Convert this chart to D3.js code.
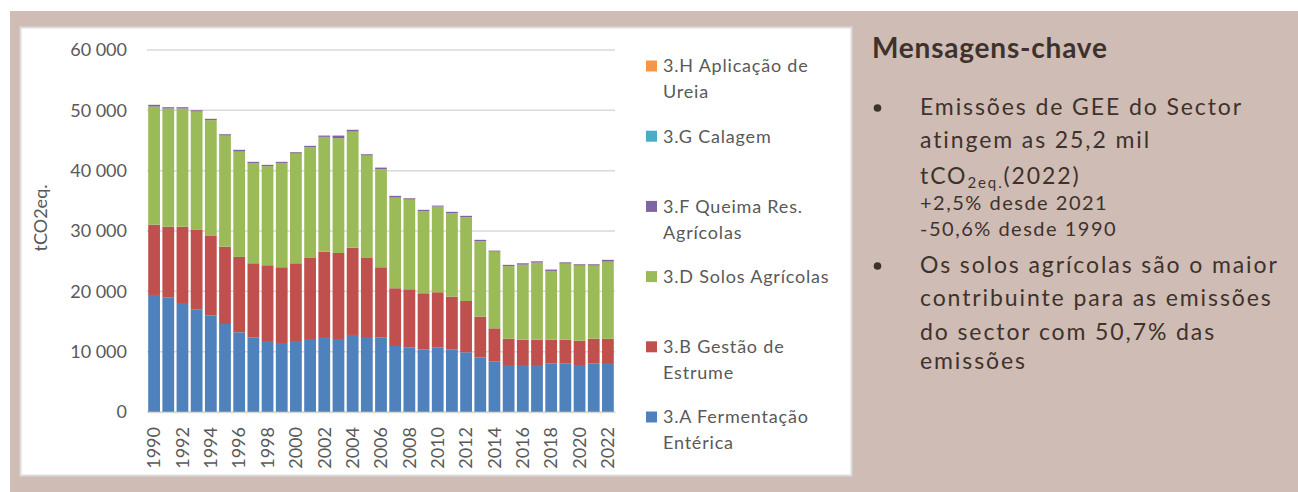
<!DOCTYPE html>
<html>
<head>
<meta charset="utf-8">
<script src="https://cdn.jsdelivr.net/npm/d3@7"></script>
<style>
  body { margin: 0; background: #fff; }
  svg { display: block; font-family: Lato, "Open Sans", sans-serif; }
</style>
</head>
<body>
<div id="chart"></div>
<script>
// anos e emissões por subsector (tCO2eq.)
const years = d3.range(1990, 2023);
const fermentacao = [19400,18950,18070,17030,15970,14590,13210,12320,11770,11440,11770,12100,12430,12100,12770,12430,12320,10940,10730,10390,10730,10390,9900,9010,8340,7790,7790,7790,8010,8010,7790,8010,8120];
const estrume = [11650,11770,12650,13150,13210,12820,12490,12330,12550,12550,12880,13430,14150,14260,14470,13100,11670,9570,9610,9290,9120,8730,8500,6790,5530,4370,4200,4200,3980,3980,4030,4150,4040];
const solos = [19570,19570,19570,19610,19180,18400,17460,16630,16420,17290,18170,18360,19020,19020,19230,16970,16250,15020,14860,13600,14190,13820,13880,12500,12710,12000,12430,12770,11390,12600,12440,12100,12760];
const queima = [280,230,230,230,220,230,280,170,210,170,240,210,210,430,290,230,260,280,230,210,160,220,220,220,160,210,230,220,220,220,230,230,280];
const calagem = [10,10,10,10,10,10,10,10,10,10,10,10,10,10,10,10,10,10,10,10,10,10,10,10,10,10,10,10,10,10,10,10,10];
const ureia = [20,20,20,20,20,20,20,20,20,20,20,20,20,20,20,20,20,20,20,20,20,20,20,20,20,20,20,20,20,20,20,20,20];
const yTicks = [0, 10000, 20000, 30000, 40000, 50000, 60000];

const series = [
  { key: 'A', values: fermentacao, color: '#4f81bd', label: ['3.A Fermentação', 'Entérica'] },
  { key: 'B', values: estrume, color: '#c0504d', label: ['3.B Gestão de', 'Estrume'] },
  { key: 'D', values: solos, color: '#9bbb59', label: ['3.D Solos Agrícolas'] },
  { key: 'F', values: queima, color: '#8064a2', label: ['3.F Queima Res.', 'Agrícolas'] },
  { key: 'G', values: calagem, color: '#4bacc6', label: ['3.G Calagem'] },
  { key: 'H', values: ureia, color: '#f79646', label: ['3.H Aplicação de', 'Ureia'] }
];

const width = 1298;
const height = 492;

const svg = d3.select('#chart').append('svg')
  .attr('width', width)
  .attr('height', height);

// fundo e caixa do gráfico
svg.append('rect')
  .attr('x', 10).attr('y', 11)
  .attr('width', width - 10).attr('height', height - 11)
  .attr('fill', '#cfbcb4');

svg.append('rect')
  .attr('x', 20.5).attr('y', 27.5)
  .attr('width', 831).attr('height', 448)
  .attr('fill', '#fff')
  .attr('stroke', '#dcdcdc')
  .attr('stroke-width', 2);

// tabela para o stack
const table = years.map((y, i) => {
  const row = { year: y };
  series.forEach(s => { row[s.key] = s.values[i]; });
  return row;
});
const stacked = d3.stack().keys(series.map(s => s.key))(table);

const x = d3.scaleBand()
  .domain(years)
  .range([147, 615])
  .paddingInner(0.17)
  .paddingOuter(0.085);

const y = d3.scaleLinear()
  .domain([0, 60000])
  .range([412, 50]);

// grelha
svg.append('g')
  .selectAll('line')
  .data(yTicks)
  .join('line')
  .attr('x1', 147).attr('x2', 615)
  .attr('y1', d => y(d)).attr('y2', d => y(d))
  .attr('stroke', '#d9d9d9')
  .attr('stroke-width', 1.5);

// eixo Y
const axisY = d3.axisLeft(y)
  .tickValues(yTicks)
  .tickSize(0)
  .tickPadding(0)
  .tickFormat(d => d3.format(',')(d).replace(/,/g, ' '));

const gy = svg.append('g')
  .attr('transform', 'translate(127, 0)')
  .call(axisY);
gy.select('.domain').remove();
gy.selectAll('text')
  .attr('fill', '#595959')
  .attr('font-size', 18)
  .attr('font-family', 'Lato, sans-serif');

svg.append('text')
  .attr('transform', 'translate(47, 218) rotate(-90)')
  .attr('text-anchor', 'middle')
  .attr('fill', '#595959')
  .attr('font-size', 18)
  .text('tCO2eq.');

// barras
const colorOf = d3.scaleOrdinal()
  .domain(series.map(s => s.key))
  .range(series.map(s => s.color));

svg.append('g')
  .selectAll('g')
  .data(stacked)
  .join('g')
  .attr('fill', d => colorOf(d.key))
  .selectAll('rect')
  .data(d => d)
  .join('rect')
  .attr('x', d => x(d.data.year))
  .attr('y', d => y(d[1]))
  .attr('width', x.bandwidth())
  .attr('height', d => y(d[0]) - y(d[1]));

// eixo X
const axisX = d3.axisBottom(x)
  .tickValues(years.filter(d => d % 2 === 0))
  .tickSize(0);

const gx = svg.append('g')
  .attr('transform', `translate(0, ${y(0)})`)
  .call(axisX);
gx.select('.domain')
  .attr('stroke', '#d9d9d9')
  .attr('stroke-width', 1.5);
gx.selectAll('text')
  .attr('fill', '#595959')
  .attr('font-size', 18)
  .attr('font-family', 'Lato, sans-serif')
  .attr('text-anchor', 'end')
  .attr('transform', 'rotate(-90)')
  .attr('x', -15)
  .attr('y', 0)
  .attr('dy', '0.35em');

// legenda (ordem inversa)
const legendItems = series.slice().reverse();
const legendY = d3.scalePoint()
  .domain(legendItems.map(s => s.key))
  .range([66, 417]);

const legend = svg.append('g')
  .selectAll('g')
  .data(legendItems)
  .join('g')
  .attr('transform', d => `translate(646, ${legendY(d.key)})`);

legend.append('rect')
  .attr('x', 0).attr('y', -5.5)
  .attr('width', 11).attr('height', 11)
  .attr('fill', d => d.color);

legend.append('text')
  .attr('fill', '#595959')
  .attr('font-size', 18)
  .attr('letter-spacing', 0.8)
  .selectAll('tspan')
  .data(d => d.label)
  .join('tspan')
  .attr('x', 17)
  .attr('y', (d, i) => i * 26)
  .attr('dy', '0.35em')
  .text(d => d);

// mensagens-chave
const panel = svg.append('g').attr('fill', '#3e322d');

panel.append('text')
  .attr('x', 872).attr('y', 58)
  .attr('font-size', 28)
  .attr('font-weight', 'bold')
  .attr('letter-spacing', 0.8)
  .text('Mensagens-chave');

const bullets = [108, 266];
panel.selectAll('circle')
  .data(bullets)
  .join('circle')
  .attr('cx', 877.5).attr('cy', d => d)
  .attr('r', 3.8);

const big = { size: 23, spacing: 1.9 };
const small = { size: 20, spacing: 1.5 };
const lines = [
  { y: 115, text: 'Emissões de GEE do Sector', f: big },
  { y: 148, text: 'atingem as 25,2 mil', f: big },
  { y: 210, text: '+2,5% desde 2021', f: small },
  { y: 236, text: '-50,6% desde 1990', f: small },
  { y: 273, text: 'Os solos agrícolas são o maior', f: big },
  { y: 306, text: 'contribuinte para as emissões', f: big },
  { y: 340, text: 'do sector com 50,7% das', f: big },
  { y: 369, text: 'emissões', f: big }
];

panel.selectAll('text.line')
  .data(lines)
  .join('text')
  .attr('class', 'line')
  .attr('x', 920).attr('y', d => d.y)
  .attr('font-size', d => d.f.size)
  .attr('letter-spacing', d => d.f.spacing)
  .text(d => d.text);

const co2 = panel.append('text')
  .attr('x', 920).attr('y', 184)
  .attr('font-size', big.size)
  .attr('letter-spacing', big.spacing);
co2.append('tspan').text('tCO');
co2.append('tspan').attr('font-size', 15).attr('dy', 4).text('2eq.');
co2.append('tspan').attr('dy', -4).text('(2022)');
</script>
</body>
</html>
